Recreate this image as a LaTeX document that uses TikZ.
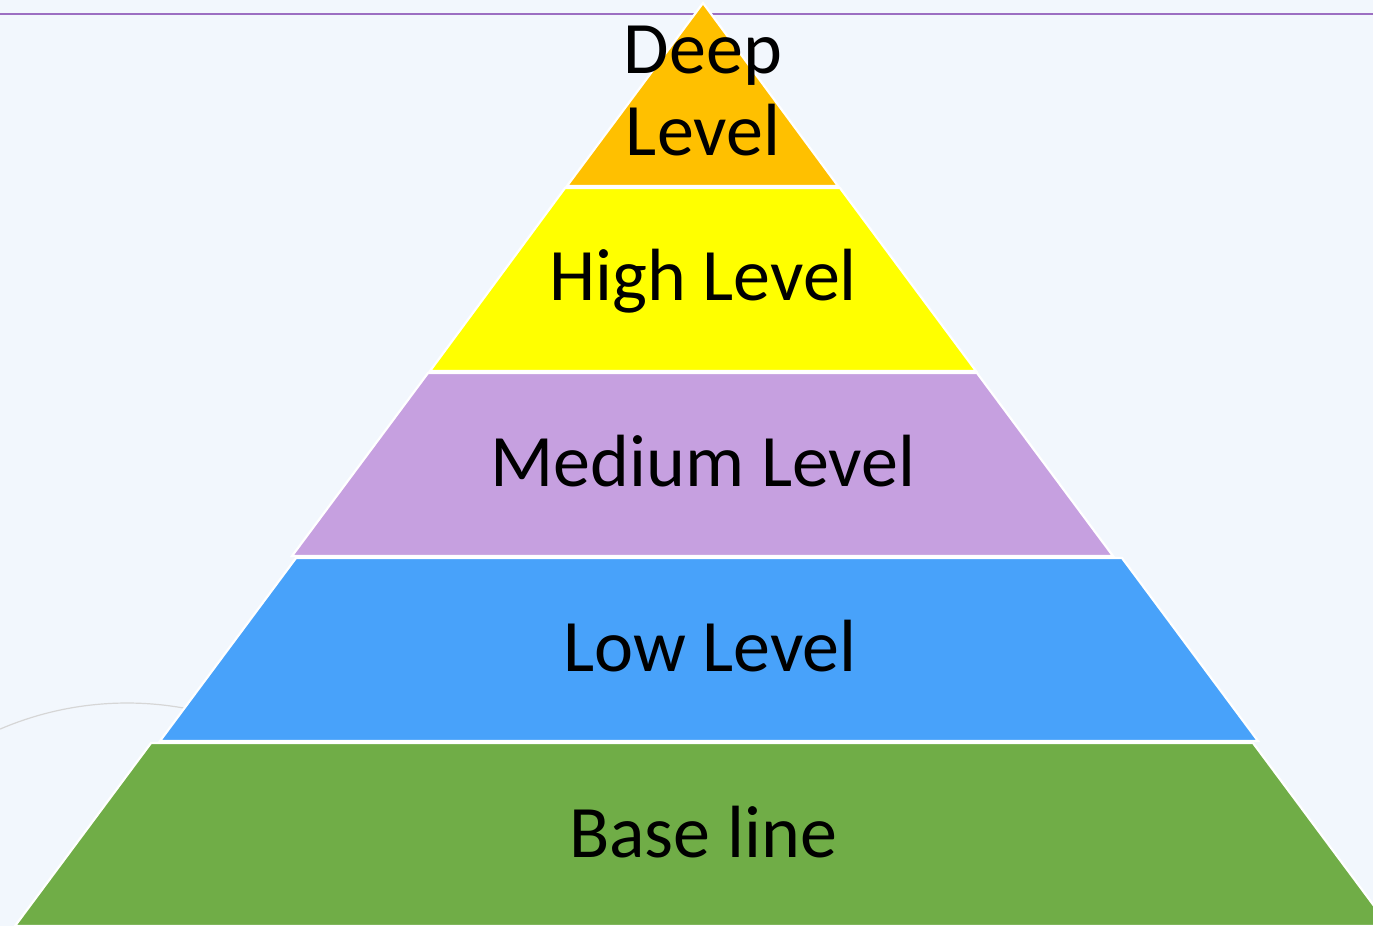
\documentclass[tikz,border=0pt]{standalone}
\usepackage{fontspec}
\setmainfont{Carlito}
\definecolor{bgpale}{HTML}{F2F7FD}
\definecolor{rulepurple}{HTML}{9C6FC2}
\definecolor{arcgray}{HTML}{D6D6D6}
\definecolor{deepfill}{HTML}{FFC000}
\definecolor{highfill}{HTML}{FFFF00}
\definecolor{mediumfill}{HTML}{C6A0E0}
\definecolor{lowfill}{HTML}{48A2FA}
\definecolor{basefill}{HTML}{70AD47}
\begin{document}
\begin{tikzpicture}[x=1pt,y=-1pt,
  layer/.style={draw=white,line width=2.2pt,line join=miter},
  label/.style={anchor=base,inner sep=0pt,font=\fontsize{74}{82}\selectfont,text=black}]
  % canvas
  \fill[bgpale] (0,0) rectangle (1373,926);
  \useasboundingbox (0,0) rectangle (1373,926);
  \clip (0,0) rectangle (1373,926);
  % top rule and faint arc behind the pyramid
  \draw[rulepurple,line width=2.4pt] (0,14) -- (1373,14);
  \draw[arcgray,line width=1.2pt] (127,1025) ++(-113.2:322) arc[start angle=-113.2,end angle=-70,radius=322];
  % pyramid layers, bottom to top
  \filldraw[layer,fill=basefill]   (151,743) -- (1253,743) -- (1389,926) -- (15,926) -- cycle;
  \filldraw[layer,fill=lowfill]    (296,558) -- (1122,558) -- (1258,741) -- (160,741) -- cycle;
  \filldraw[layer,fill=mediumfill] (428,373) -- (977,373) -- (1113,556) -- (292,556) -- cycle;
  \filldraw[layer,fill=highfill]   (565,188) -- (840,188) -- (976,371) -- (430,371) -- cycle;
  \filldraw[layer,fill=deepfill]   (703,3) -- (838,186) -- (567,186) -- cycle;
  % labels
  \node[label] (deep1) at (703,73)  {Deep};
  \node[label] (deep2) at (703,155) {Level};
  \node[label] (high)  at (703,300) {High Level};
  \node[label] (medium) at (703,486) {Medium Level};
  \node[label] (low)   at (710,671) {Low Level};
  \node[label] (base)  at (703,857) {Base line};
\end{tikzpicture}
\end{document}
